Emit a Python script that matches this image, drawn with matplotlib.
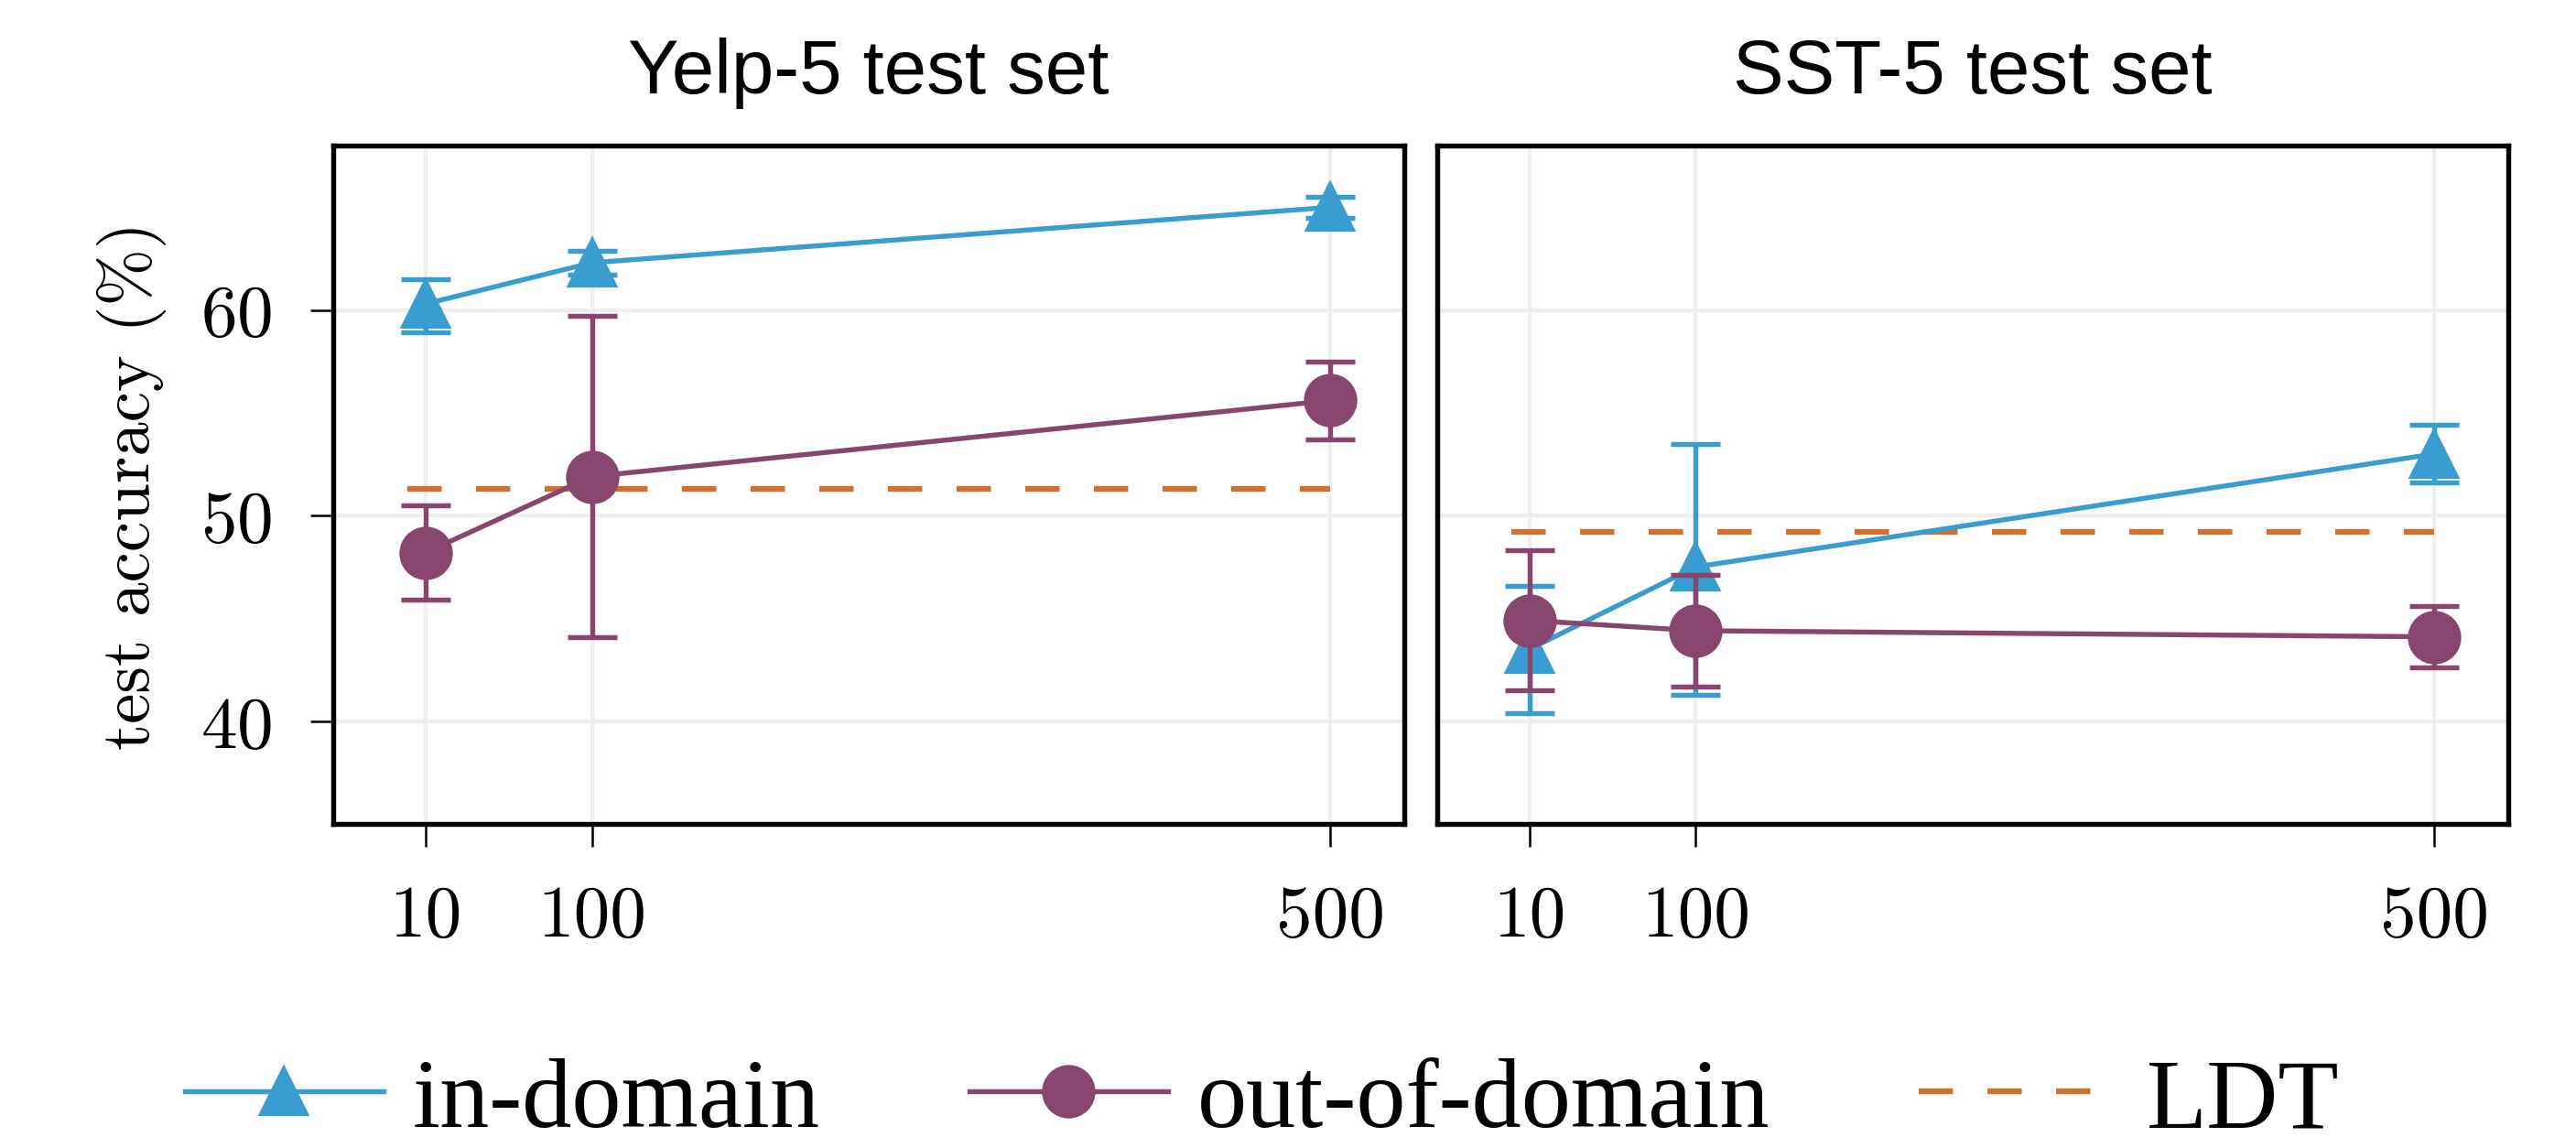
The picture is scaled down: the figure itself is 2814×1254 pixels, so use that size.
import numpy as np
import matplotlib
matplotlib.use('Agg')
import matplotlib.pyplot as plt

# sample counts on the x axis
n_samples = [10, 100, 500]

# Yelp-5 test set
yelp_in = [60.3, 62.3, 65.0]
yelp_in_lo = [58.9, 61.7, 64.5]
yelp_in_hi = [61.5, 62.9, 65.5]
yelp_out = [48.2, 51.9, 55.6]
yelp_out_lo = [45.9, 44.1, 53.7]
yelp_out_hi = [50.5, 59.7, 57.5]
yelp_ldt = 51.3

# SST-5 test set
sst_in = [43.5, 47.5, 53.0]
sst_in_lo = [40.4, 41.3, 51.6]
sst_in_hi = [46.6, 53.5, 54.4]
sst_out = [44.9, 44.4, 44.1]
sst_out_lo = [41.5, 41.7, 42.6]
sst_out_hi = [48.3, 47.1, 45.6]
sst_ldt = 49.2

titles = ['Yelp-5 test set', 'SST-5 test set']
ldt_span = [0, 500]

c_in = '#3a9dd1'
c_out = '#88466e'
c_ldt = '#d4702d'

plt.rcParams['font.family'] = 'serif'
plt.rcParams['font.serif'] = ['cmr10']
plt.rcParams['mathtext.fontset'] = 'cm'
plt.rcParams['axes.unicode_minus'] = False
plt.rcParams['axes.formatter.use_mathtext'] = True


def err(vals, lo, hi):
    vals = np.array(vals)
    return [vals - np.array(lo), np.array(hi) - vals]


def draw_panel(ax, ind, ind_lo, ind_hi, outd, outd_lo, outd_hi, ldt, title):
    ldt_line, = ax.plot(ldt_span, [ldt, ldt], color=c_ldt, lw=1.5, dashes=(6, 6), zorder=2)
    e_in = ax.errorbar(n_samples, ind, yerr=err(ind, ind_lo, ind_hi), color=c_in, marker='^',
                       markersize=12, lw=1.3, elinewidth=1.3, capsize=6.5, capthick=1.3,
                       zorder=3)
    e_out = ax.errorbar(n_samples, outd, yerr=err(outd, outd_lo, outd_hi), color=c_out,
                        marker='o', markersize=13, lw=1.3, elinewidth=1.3, capsize=6.5,
                        capthick=1.3, zorder=4)
    ax.set_xlim(-40, 540)
    ax.set_ylim(35, 68)
    ax.set_xticks(n_samples)
    ax.set_xticklabels([str(n) for n in n_samples])
    ax.set_yticks([40, 50, 60])
    ax.grid(True, color='#eeeeee', lw=1.0, zorder=0)
    ax.set_axisbelow(True)
    ax.tick_params(direction='out', length=6, width=0.6, pad=10, labelsize=19)
    for s in ax.spines.values():
        s.set_linewidth(1.3)
    ax.set_title(title, family='Liberation Sans', fontsize=20, pad=14)
    # plain line handles for the legend (no error bars)
    return [e_in[0], e_out[0], ldt_line]


fig = plt.figure(figsize=(9.38, 4.1833), dpi=300)
ax1 = fig.add_axes([0.1294, 0.2821, 0.4158, 0.5904])
ax2 = fig.add_axes([0.5579, 0.2821, 0.4158, 0.5904])

handles = draw_panel(ax1, yelp_in, yelp_in_lo, yelp_in_hi, yelp_out, yelp_out_lo,
                     yelp_out_hi, yelp_ldt, titles[0])
draw_panel(ax2, sst_in, sst_in_lo, sst_in_hi, sst_out, sst_out_lo, sst_out_hi,
           sst_ldt, titles[1])
ax2.tick_params(axis='y', left=False, labelleft=False)

ax1.set_ylabel('test accuracy (%)', fontsize=18, labelpad=9)

fig.legend(handles, ['in-domain', 'out-of-domain', 'LDT'], loc='center',
           bbox_to_anchor=(0.49, 0.04), ncol=3, frameon=False,
           prop={'family': 'Liberation Serif', 'size': 26},
           handlelength=2.0, handletextpad=0.3, columnspacing=1.5)

fig.savefig('out.png', dpi=300)
